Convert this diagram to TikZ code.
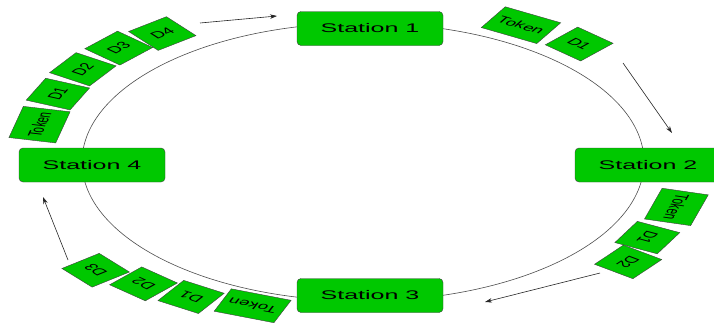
\documentclass[tikz,border=0pt]{standalone}
\usepackage{fontspec}
\setmainfont{Liberation Sans}
\usetikzlibrary{arrows.meta}

\definecolor{ringgreen}{RGB}{0,200,0}

\tikzset{
  station/.style={draw=black!75, fill=ringgreen, rounded corners=4pt,
    minimum width=73pt, minimum height=34pt, inner sep=0pt,
    font=\fontsize{12.5}{14}\selectfont},
  frame/.style={draw=black!75, fill=ringgreen, minimum width=24pt,
    minimum height=24pt, inner sep=0pt, font=\fontsize{9.5}{11}\selectfont},
  tokenframe/.style={frame, minimum width=32pt},
  flow/.style={-{Stealth[length=7pt,width=4.5pt]}, black!85, line width=0.6pt}
}

\begin{document}
\begin{tikzpicture}[x=1pt, y=1pt, xscale=2, transform shape]
  \useasboundingbox (0,0) rectangle (357,325);
  \coordinate (C) at (181.5,163);

  \draw [black!70, line width=0.6pt] (C) ellipse [x radius=140.5, y radius=139];

  \node [station] (s1) at (185,296.5) {Station 1};
  \node [station] (s2) at (324,160) {Station 2};
  \node [station] (s3) at (185,29.5) {Station 3};
  \node [station] (s4) at (46,160) {Station 4};

  \begin{scope}[shift={(C)}]
    \node [tokenframe, rotate=77]   (t4)   at (167:166)   {Token};
    \node [frame, rotate=66]        (t4d1) at (156:167)   {D1};
    \node [frame, rotate=56.5]      (t4d2) at (146.5:168) {D2};
    \node [frame, rotate=47]        (t4d3) at (137:167)   {D3};
    \node [frame, rotate=38]        (t4d4) at (128:163)   {D4};

    \node [tokenframe, rotate=-30]  (t1)   at (60:158)    {Token};
    \node [frame, rotate=-42.5]     (t1d1) at (47.5:160)  {D1};

    \node [tokenframe, rotate=-106] (t2)   at (-16:163)   {Token};
    \node [frame, rotate=-118]      (t2d1) at (-28:161)   {D1};
    \node [frame, rotate=-127]      (t2d2) at (-37:166)   {D2};

    \node [tokenframe, rotate=159]  (t3)   at (-111:154)  {Token};
    \node [frame, rotate=147.5]     (t3d1) at (-122.5:160) {D1};
    \node [frame, rotate=138]       (t3d2) at (-132:164)  {D2};
    \node [frame, rotate=129]       (t3d3) at (-141:172)  {D3};
  \end{scope}

  \coordinate (a1) at (100,302);
  \coordinate (b1) at (138.5,309);
  \coordinate (a2) at (311.5,262);
  \coordinate (b2) at (336,192);
  \coordinate (a3) at (300,52);
  \coordinate (b3) at (242.5,23);
  \coordinate (a4) at (34,65);
  \coordinate (b4) at (21.5,128);

  \draw [flow] (a1) -- (b1);
  \draw [flow] (a2) -- (b2);
  \draw [flow] (a3) -- (b3);
  \draw [flow] (a4) -- (b4);
\end{tikzpicture}
\end{document}
